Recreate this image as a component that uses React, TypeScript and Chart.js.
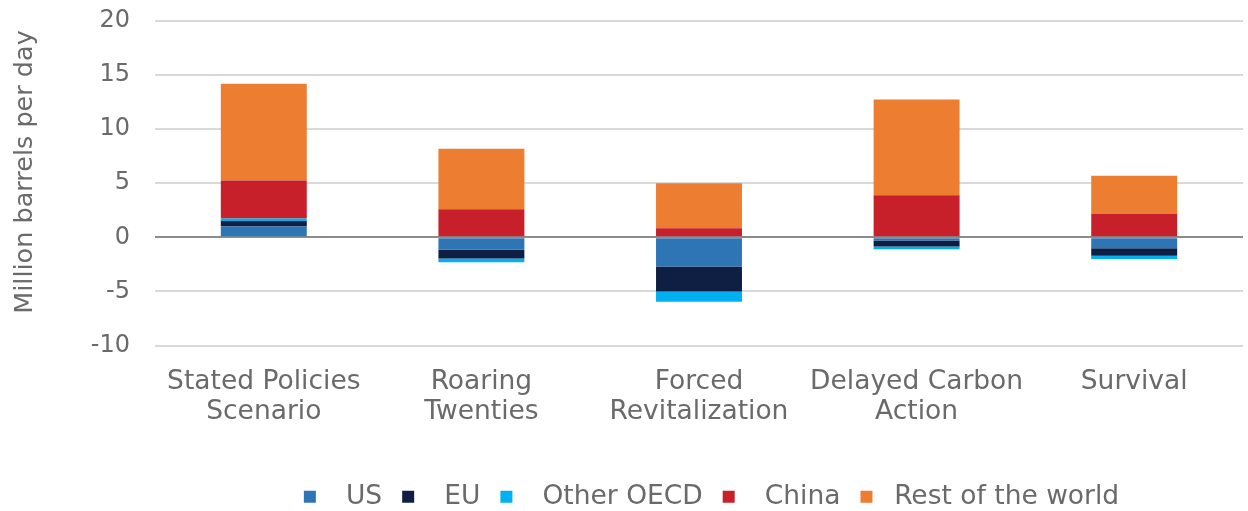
import React, { useEffect, useRef } from "react";
import { Chart, registerables } from "chart.js";

Chart.register(...registerables);

const categories: string[][] = [
  ["Stated Policies", "Scenario"],
  ["Roaring", "Twenties"],
  ["Forced", "Revitalization"],
  ["Delayed Carbon", "Action"],
  ["Survival"],
];

const seriesNames = ["US", "EU", "Other OECD", "China", "Rest of the world"];
const usValues = [1.0, -1.15, -2.7, -0.3, -1.0];
const euValues = [0.5, -0.8, -2.3, -0.55, -0.7];
const otherOecdValues = [0.25, -0.35, -0.95, -0.25, -0.3];
const chinaValues = [3.5, 2.6, 0.85, 3.9, 2.15];
const restValues = [8.95, 5.6, 4.15, 8.85, 3.55];
const seriesColors = ["#2e75b6", "#0f1f44", "#00b0f0", "#c8202a", "#ed7d31"];

const yTicks = [-10, -5, 0, 5, 10, 15, 20];
const yTitle = "Million barrels per day";

const FONT = "'DejaVu Sans', sans-serif";
const TEXT = "#6a6a6a";
const legendGaps = [2, 2, 2, 2, 1];
const LEGEND_SHIFT = 90;

const shiftLegend = {
  id: "shiftLegend",
  afterLayout(chart: any) {
    const lg = chart.legend;
    if (lg) {
      lg.left += LEGEND_SHIFT;
      lg.right += LEGEND_SHIFT;
    }
  },
};

const yTitlePlugin = {
  id: "yTitlePlugin",
  afterDraw(chart: any) {
    const ctx = chart.ctx;
    ctx.save();
    ctx.translate(25, 172);
    ctx.rotate(-Math.PI / 2);
    ctx.font = `25.5px ${FONT}`;
    ctx.fillStyle = TEXT;
    ctx.textAlign = "center";
    ctx.textBaseline = "middle";
    ctx.fillText(yTitle, 0, 0);
    ctx.restore();
  },
};

export default function App() {
  const ref = useRef<HTMLCanvasElement>(null);
  useEffect(() => {
    if (!ref.current) return;
    const values = [usValues, euValues, otherOecdValues, chinaValues, restValues];
    const chart = new Chart(ref.current, {
      type: "bar",
      plugins: [shiftLegend, yTitlePlugin],
      data: {
        labels: categories,
        datasets: values.map((v, i) => ({
          label: seriesNames[i],
          data: v,
          backgroundColor: seriesColors[i],
          borderWidth: 0,
          categoryPercentage: 1,
          barPercentage: 0.395,
        })),
      },
      options: {
        animation: false,
        responsive: false,
        maintainAspectRatio: false,
        layout: { padding: { top: 21, right: 5, left: 0, bottom: 0 } },
        plugins: {
          tooltip: { enabled: false },
          legend: {
            position: "bottom",
            labels: {
              boxWidth: 12,
              boxHeight: 12,
              padding: 20,
              color: TEXT,
              font: { family: FONT, size: 26.5 },
              generateLabels: (c: any) => {
                const items = Chart.defaults.plugins.legend.labels.generateLabels(c);
                return items.map((it: any, i: number) => ({
                  ...it,
                  text: " ".repeat(legendGaps[i]) + it.text,
                  lineWidth: 0,
                }));
              },
            },
          },
        },
        scales: {
          x: {
            stacked: true,
            grid: { display: false, drawTicks: false },
            border: { display: false },
            ticks: {
              color: TEXT,
              padding: 21,
              font: { family: FONT, size: 26.5, lineHeight: 1.15 },
              maxRotation: 0,
              autoSkip: false,
            },
            afterFit: (s: any) => {
              s.height = 118;
              s.paddingLeft = 0;
              s.paddingRight = 0;
            },
          },
          y: {
            stacked: true,
            min: -10,
            max: 20,
            afterBuildTicks: (s: any) => {
              s.ticks = yTicks.map((v) => ({ value: v }));
            },
            grid: {
              drawTicks: false,
              color: (c: any) => (c.tick && c.tick.value === 0 ? "#8c8c8c" : "#d9d9d9"),
              lineWidth: 2,
            },
            border: { display: false },
            ticks: {
              color: TEXT,
              padding: 25,
              font: { family: FONT, size: 24 },
            },
            title: { display: false, text: yTitle },
            afterFit: (s: any) => {
              s.width = 155;
              s.paddingTop = 0;
              s.paddingBottom = 0;
            },
          },
        },
      },
    });
    return () => chart.destroy();
  }, []);
  return (
    <div style={{ position: "fixed", left: 0, top: 0, width: 1248, height: 520 }}>
      <canvas ref={ref} width={1248} height={520} style={{ display: "block" }} />
    </div>
  );
}
